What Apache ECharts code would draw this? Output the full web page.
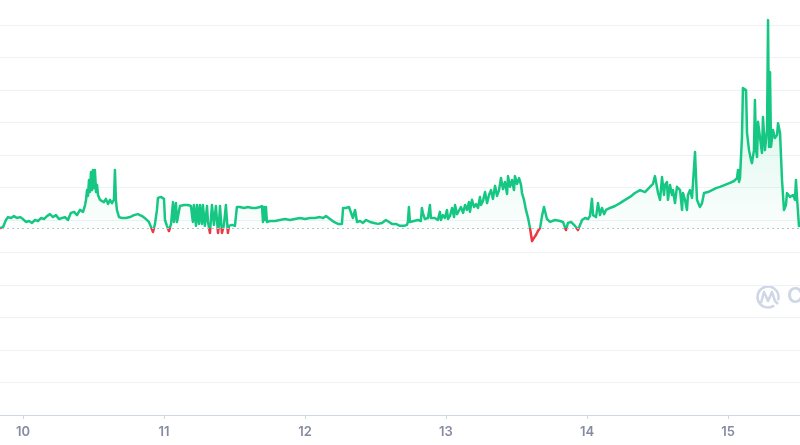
<!DOCTYPE html>
<html>
<head>
<meta charset="utf-8">
<title>Price</title>
<script src="https://cdn.jsdelivr.net/npm/echarts@6/dist/echarts.min.js"></script>
<style>
  html, body { margin: 0; padding: 0; background: #fff; }
  #chart { width: 800px; height: 445px; }
</style>
</head>
<body>
<div id="chart"></div>
<script>
// time in days of the month, price in chart units
var times = [
  9.837, 9.858, 9.879, 9.894, 9.915, 9.936, 9.957, 9.979, 10.000, 10.021, 10.043, 10.064, 10.085, 10.106, 10.128,
  10.149, 10.170, 10.191, 10.213, 10.234, 10.255, 10.277, 10.298, 10.319, 10.340, 10.362, 10.383, 10.404, 10.426, 10.440,
  10.447, 10.454, 10.461, 10.468, 10.475, 10.482, 10.489, 10.496, 10.503, 10.510, 10.518, 10.525, 10.532, 10.546, 10.560,
  10.574, 10.588, 10.603, 10.617, 10.631, 10.645, 10.652, 10.659, 10.666, 10.681,
  10.702, 10.730, 10.759, 10.787, 10.815, 10.844, 10.872, 10.893, 10.908, 10.922, 10.936, 10.950, 10.957, 10.978, 11.000,
  11.007, 11.021, 11.035, 11.050, 11.064, 11.071, 11.085, 11.092, 11.113, 11.141, 11.170, 11.191, 11.205, 11.212, 11.227,
  11.234, 11.248, 11.255, 11.269, 11.276, 11.290, 11.305, 11.312, 11.326, 11.340, 11.354, 11.368, 11.383, 11.390, 11.397,
  11.411, 11.425, 11.439, 11.453, 11.461, 11.482, 11.503, 11.517,
  11.539, 11.567, 11.595, 11.624, 11.652, 11.680, 11.695, 11.702, 11.709, 11.716, 11.723, 11.730, 11.751, 11.787, 11.822,
  11.858, 11.893, 11.928, 11.964, 12.000, 12.035, 12.071, 12.106, 12.128, 12.149, 12.177, 12.206, 12.234, 12.262, 12.270,
  12.291, 12.312, 12.326, 12.340, 12.355, 12.369, 12.390, 12.411, 12.433, 12.461, 12.489, 12.518, 12.546, 12.574, 12.596,
  12.617, 12.645,
  12.673, 12.702, 12.723, 12.730, 12.737, 12.744, 12.772, 12.801, 12.822, 12.829, 12.836, 12.850, 12.872, 12.886, 12.893,
  12.921, 12.942, 12.957, 12.964, 12.978, 12.992, 13.007, 13.014, 13.028, 13.043, 13.057, 13.064, 13.078, 13.092, 13.106,
  13.121, 13.135, 13.149, 13.163, 13.170, 13.184, 13.199, 13.213, 13.227, 13.241, 13.248, 13.262, 13.277, 13.291, 13.305,
  13.319, 13.333, 13.348, 13.362, 13.376, 13.390, 13.404, 13.418, 13.433, 13.440, 13.454, 13.468, 13.482, 13.489, 13.504,
  13.518, 13.532, 13.539, 13.553, 13.567, 13.582, 13.596, 13.610, 13.624, 13.638, 13.652, 13.667, 13.681, 13.695, 13.702,
  13.716, 13.738, 13.773, 13.809,
  13.830, 13.851, 13.865, 13.887, 13.915, 13.936, 13.965, 13.986, 14.007, 14.021, 14.035, 14.043, 14.064, 14.078, 14.092,
  14.106, 14.121,
  14.135, 14.163, 14.199, 14.234, 14.270, 14.305, 14.340, 14.376, 14.411, 14.447, 14.468, 14.482, 14.496, 14.504, 14.518,
  14.532, 14.546, 14.553, 14.567, 14.574, 14.589, 14.603, 14.610, 14.624, 14.638, 14.660, 14.674, 14.681, 14.695, 14.709,
  14.716, 14.730, 14.745, 14.759, 14.766, 14.780, 14.801, 14.816, 14.830, 14.858, 14.887, 14.915, 14.943, 14.979, 15.014,
  15.043, 15.064, 15.071, 15.078, 15.085, 15.099, 15.106, 15.128, 15.135, 15.149, 15.163, 15.170, 15.184, 15.191, 15.199,
  15.206, 15.213, 15.227, 15.241, 15.248, 15.262, 15.277, 15.284, 15.291, 15.298, 15.305, 15.319, 15.333, 15.348, 15.355,
  15.369, 15.383, 15.397, 15.411, 15.418, 15.440, 15.461, 15.475, 15.482, 15.489, 15.504
];
var prices = [
  5.75, 5.78, 6.00, 6.09, 6.06, 6.12, 6.06, 6.09, 6.03, 5.94, 5.97, 5.91, 6.00, 5.97, 6.06,
  6.03, 6.12, 6.18, 6.09, 6.15, 6.03, 6.06, 6.09, 6.00, 6.22, 6.25, 6.15, 6.31, 6.25, 6.46,
  6.62, 6.92, 6.74, 7.23, 6.86, 7.48, 6.92, 7.54, 6.98, 7.54, 6.86, 7.08, 6.77, 6.62, 6.68,
  6.55, 6.65, 6.49, 6.62, 6.52, 6.62, 7.54, 6.62, 6.31, 6.09,
  6.06, 6.06, 6.09, 6.15, 6.18, 6.12, 6.03, 5.94, 5.78, 5.63, 5.88, 6.31, 6.68, 6.71, 6.65,
  6.00, 5.82, 5.66, 5.88, 6.55, 5.94, 6.52, 5.94, 6.43, 6.46, 6.46, 6.43, 5.94, 6.46, 5.82,
  6.46, 5.88, 6.46, 5.88, 6.46, 5.82, 6.43, 5.94, 5.60, 6.46, 5.85, 6.43, 5.60, 5.88, 6.43,
  5.60, 5.85, 6.46, 5.60, 5.82, 5.85, 5.82, 6.40,
  6.40, 6.37, 6.40, 6.37, 6.37, 6.40, 6.43, 5.94, 6.40, 6.00, 6.40, 5.94, 5.97, 5.97, 6.00,
  6.03, 6.00, 6.03, 6.06, 6.03, 6.06, 6.06, 6.09, 6.06, 6.12, 6.03, 5.94, 5.88, 5.88, 6.37,
  6.37, 6.40, 6.34, 6.06, 6.31, 5.94, 5.97, 5.91, 6.00, 5.94, 5.91, 5.88, 5.91, 6.00, 5.94,
  5.88, 5.88,
  5.82, 5.82, 5.85, 5.94, 6.40, 5.94, 5.97, 6.00, 5.97, 6.37, 6.22, 6.03, 6.06, 6.46, 6.06,
  6.06, 6.00, 6.25, 6.00, 6.15, 6.06, 6.31, 6.03, 6.12, 6.37, 6.09, 6.46, 6.18, 6.12, 6.40,
  6.22, 6.46, 6.31, 6.55, 6.25, 6.62, 6.40, 6.49, 6.37, 6.71, 6.46, 6.58, 6.86, 6.52, 6.77,
  6.92, 6.65, 7.05, 6.74, 6.92, 7.29, 6.95, 7.17, 6.80, 7.35, 7.02, 7.23, 6.92, 7.35, 7.11,
  7.29, 7.08, 6.83, 6.62, 6.31, 6.06, 5.75, 5.35, 5.45, 5.54, 5.66, 5.75, 6.12, 6.40, 6.34,
  6.03, 5.94, 6.00, 5.97,
  5.94, 5.69, 5.91, 5.94, 5.82, 5.69, 6.00, 6.06, 6.03, 6.12, 6.65, 6.15, 6.09, 6.52, 6.15,
  6.37, 6.18,
  6.31, 6.37, 6.43, 6.52, 6.62, 6.71, 6.83, 6.92, 6.86, 7.02, 7.11, 7.35, 7.32, 6.83, 6.62,
  7.32, 6.77, 7.08, 7.17, 6.62, 7.08, 6.77, 6.92, 6.52, 7.02, 6.92, 6.31, 6.83, 6.62, 6.31,
  6.77, 6.92, 6.68, 6.62, 8.09, 6.62, 6.40, 6.52, 6.83, 6.86, 6.92, 6.98, 7.02, 7.08, 7.14,
  7.20, 7.29, 7.54, 7.17, 7.29, 8.55, 10.06, 10.00, 8.68, 8.15, 7.85, 7.75, 8.15, 9.69, 8.15,
  7.94, 9.02, 9.02, 8.06, 9.17, 8.15, 8.77, 12.15, 8.25, 10.55, 8.25, 8.77, 8.52, 8.62, 8.98,
  8.68, 7.23, 6.31, 6.46, 6.83, 6.71, 6.77, 6.62, 7.23, 6.71, 5.78
];
var dayTicks = [10, 11, 12, 13, 14, 15];

var base = prices[0]; // opening price, dotted reference line
var green = "#16c784";
var red = "#ea3943";

var chart = echarts.init(document.getElementById("chart"));

var option = {
  animation: false,
  backgroundColor: "#ffffff",
  grid: {
    left: -118,
    right: -69,
    top: -7.5,
    bottom: 30,
    containLabel: false,
    outerBoundsMode: "none",
  },
  xAxis: {
    type: "value",
    min: 9,
    max: 16,
    interval: 1,
    axisLine: { show: true, lineStyle: { color: "#cfd6e4", width: 1 } },
    axisTick: { show: true, length: 4, lineStyle: { color: "#cfd6e4" } },
    splitLine: { show: false },
    axisLabel: {
      color: "#858ca2",
      fontSize: 13,
      fontWeight: 600,
      fontFamily: "Inter",
      margin: 11,
      formatter: function (v) {
        return dayTicks.indexOf(v) >= 0 ? String(v) : "";
      },
    },
  },
  yAxis: {
    type: "value",
    min: 0,
    max: 13,
    interval: 1,
    axisLine: { show: false },
    axisTick: { show: false },
    axisLabel: { show: false },
    splitLine: { show: true, lineStyle: { color: "#eff2f5", width: 1 } },
  },
  visualMap: {
    show: false,
    type: "piecewise",
    seriesIndex: 0,
    dimension: 1,
    pieces: [
      { lt: base, color: red },
      { gte: base, lt: 20, color: green },
      { gte: 20, color: green },
    ],
  },
  graphic: [
    {
      type: "arc",
      shape: { cx: 768, cy: 297, r: 10.5, startAngle: Math.PI * 0.3, endAngle: Math.PI * 2.1, clockwise: true },
      style: { stroke: "#cfd6e4", lineWidth: 2.5, fill: null },
      silent: true,
    },
    {
      type: "polyline",
      shape: { points: [[761, 303], [764, 292], [768, 301], [772, 292], [775, 301], [778, 304]] },
      style: { stroke: "#cfd6e4", lineWidth: 2.5, fill: null, lineJoin: "round" },
      silent: true,
    },
    {
      type: "text",
      left: 787,
      top: 285,
      style: {
        text: "CoinMarketCap",
        fill: "#cfd6e4",
        font: "600 22px Inter",
      },
      silent: true,
    },
  ],
  series: [
    {
      type: "line",
      data: times.map(function (t, i) {
        return [t, prices[i]];
      }),
      symbol: "none",
      showSymbol: false,
      lineStyle: { width: 2.5, join: "round" },
      areaStyle: {
        origin: base,
        color: new echarts.graphic.LinearGradient(0, 0, 0, 1, [
          { offset: 0, color: "rgba(22,199,132,0.35)" },
          { offset: 1, color: "rgba(22,199,132,0.0)" },
        ]),
      },
      markLine: {
        silent: true,
        symbol: "none",
        label: { show: false },
        lineStyle: { type: [2, 3], color: "#b8bfcf", width: 1 },
        data: [{ yAxis: base }],
      },
    },
  ],
};

chart.setOption(option);
</script>
</body>
</html>
